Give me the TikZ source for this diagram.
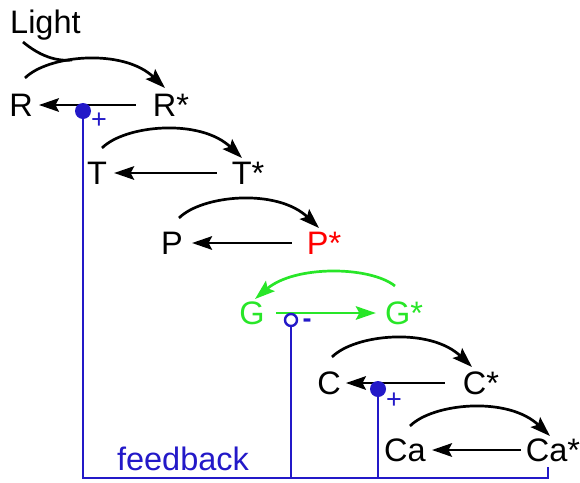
\documentclass[tikz,border=0pt]{standalone}
\usepackage{fontspec}
\setmainfont{Liberation Sans}
\usetikzlibrary{arrows.meta}
\definecolor{fb}{RGB}{35,25,200}
\definecolor{gg}{RGB}{40,230,40}
\definecolor{rr}{RGB}{255,0,0}
\begin{document}
\begin{tikzpicture}[x=1pt,y=-1pt,
  lbl/.style={font=\fontsize{32.5}{38}\selectfont, inner sep=0pt, anchor=center},
  arr/.style={line width=2.7pt, -{Stealth[length=20pt,width=13.5pt,inset=3.5pt]}},
  fbline/.style={draw=fb, line width=2.4pt},
  sign/.style={text=fb, font=\fontsize{27}{30}\selectfont, inner sep=0pt},
  fdot/.style={circle, fill=fb, inner sep=0pt, minimum size=16pt},
  odot/.style={circle, draw=fb, fill=white, line width=2.4pt, inner sep=0pt, minimum size=12pt}]
\useasboundingbox (0,0) rectangle (580,482);
% labels
\node[lbl, anchor=base west] (light) at (10,33) {Light};
\node[lbl] (R)  at (21,105) {R};
\node[lbl] (Rs) at (171,105) {R*};
\node[lbl] (T)  at (97,173) {T};
\node[lbl] (Ts) at (248,173) {T*};
\node[lbl] (P)  at (172,243) {P};
\node[lbl, text=rr] (Ps) at (324,243) {P*};
\node[lbl, text=gg] (G)  at (252,313) {G};
\node[lbl, text=gg] (Gs) at (404,313) {G*};
\node[lbl] (C)  at (329,383) {C};
\node[lbl] (Cs) at (481,383) {C*};
\node[lbl] (Ca)  at (405,450) {Ca};
\node[lbl] (Cas) at (553,450) {Ca*};
\node[lbl, text=fb, anchor=base] (fbtxt) at (183,470) {feedback};
% feedback lines
\coordinate (fbL) at (83,478);
\coordinate (fbG) at (291,478);
\coordinate (fbC) at (378,478);
\coordinate (fbE) at (548,478);
\coordinate (fbT) at (548,467);
\coordinate (pR) at (83,111);
\coordinate (pG) at (291,320);
\coordinate (pC) at (378,389);
\draw[fbline] (pR) -- (fbL) -- (fbE) -- (fbT);
\draw[fbline] (pG) -- (fbG);
\draw[fbline] (pC) -- (fbC);
% straight arrows
\draw[arr] ([xshift=-17]Rs.west) -- ([xshift=6]R.east);
\draw[arr] ([xshift=-15]Ts.west) -- ([xshift=7]T.east);
\draw[arr] ([xshift=-15]Ps.west) -- ([xshift=9]P.east);
\draw[arr, gg] ([xshift=11]G.east) -- ([xshift=-9]Gs.west);
\draw[arr] ([xshift=-18]Cs.west) -- ([xshift=5]C.east);
\draw[arr] ([xshift=-5]Cas.west) -- ([xshift=6]Ca.east);
% arcs
\coordinate (aR1) at (25,78);   \coordinate (aR2) at (165,88);
\coordinate (aT1) at (102,148); \coordinate (aT2) at (242,158);
\coordinate (aP1) at (179,218); \coordinate (aP2) at (319,228);
\coordinate (aC1) at (332,357); \coordinate (aC2) at (472,367);
\coordinate (aA1) at (410,426); \coordinate (aA2) at (550,436);
\coordinate (aG1) at (395,286); \coordinate (aG2) at (255,299);
\coordinate (lt1) at (23,42);   \coordinate (lt2) at (72,60);
\draw[arr] (aR1) .. controls +(23,-23) and +(-42,-40) .. (aR2);
\draw[arr] (aT1) .. controls +(23,-23) and +(-42,-40) .. (aT2);
\draw[arr] (aP1) .. controls +(23,-23) and +(-42,-40) .. (aP2);
\draw[arr] (aC1) .. controls +(23,-23) and +(-42,-40) .. (aC2);
\draw[arr] (aA1) .. controls +(23,-23) and +(-42,-40) .. (aA2);
\draw[arr, gg] (aG1) .. controls +(-25,-20) and +(40,-34) .. (aG2);
\draw[line width=2.7pt] (lt1) .. controls (35,52) and (52,62) .. (lt2);
% dots and signs
\node[fdot] (dR) at (pR) {};
\node[odot] (dG) at (pG) {};
\node[fdot] (dC) at (pC) {};
\node[sign] (sR) at (99,121) {+};
\node[sign, font=\bfseries\fontsize{27}{30}\selectfont] (sG) at (307,323) {-};
\node[sign] (sC) at (394,401) {+};
\end{tikzpicture}
\end{document}
